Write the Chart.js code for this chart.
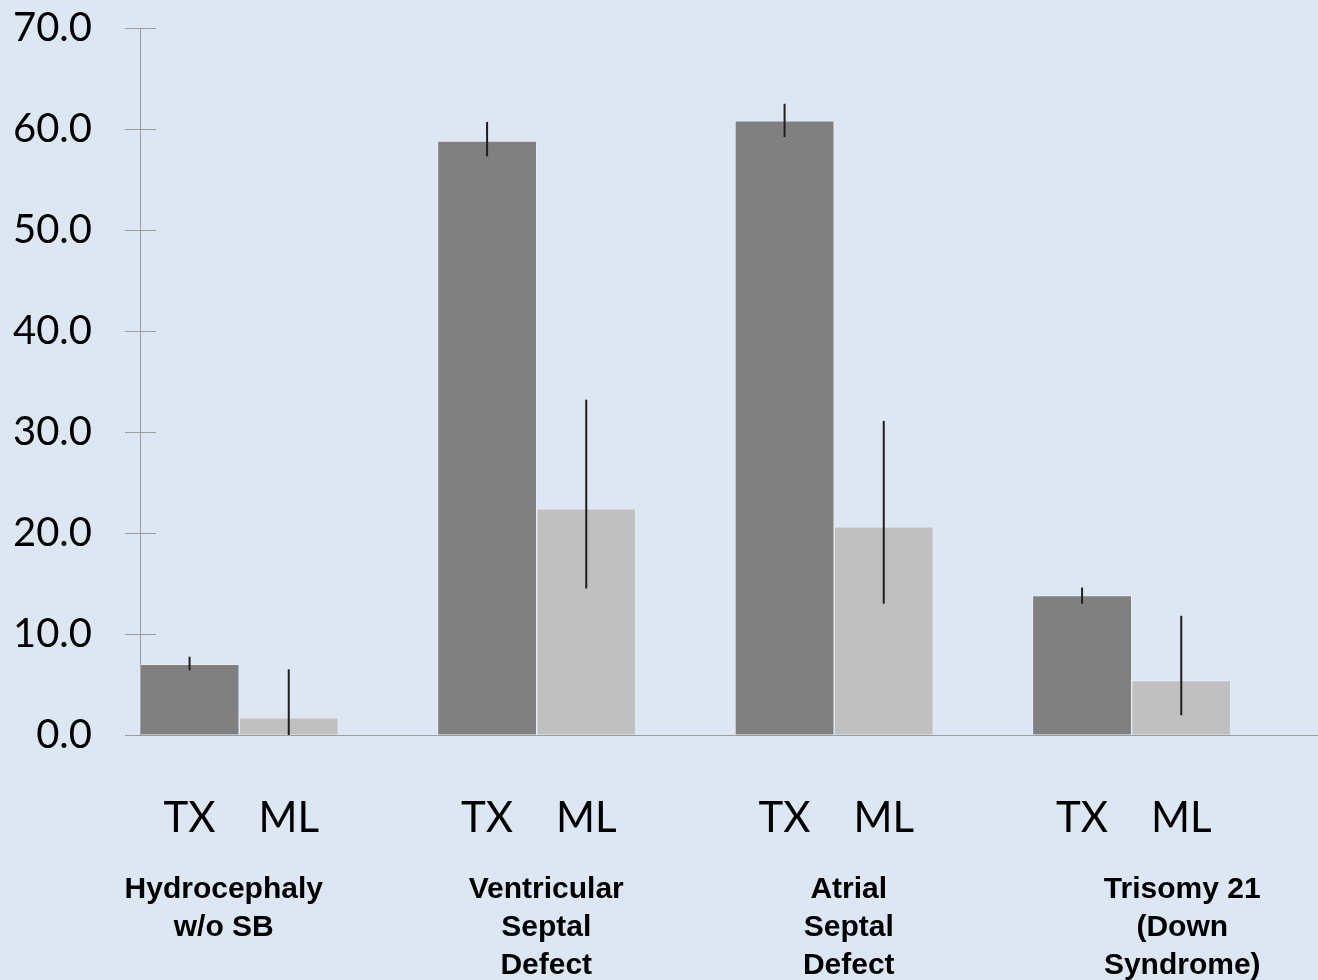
<!DOCTYPE html>
<html>
<head>
<meta charset="utf-8">
<script src="https://cdn.jsdelivr.net/npm/chart.js@4.4.1/dist/chart.umd.min.js"></script>
<style>
  html, body { margin: 0; padding: 0; overflow: hidden; background: #dce7f3; }
  #chart { position: absolute; left: 0; top: 0; }
</style>
</head>
<body>
<canvas id="chart" width="1330" height="980"></canvas>
<script>
// condition groups (text under the bars)
const categories = [
    ["Hydrocephaly", "w/o SB"],
    ["Ventricular", "Septal", "Defect"],
    ["Atrial", "Septal", "Defect"],
    ["Trisomy 21", "(Down", "Syndrome)"],
];
// one label per bar slot: TX, ML, empty gap
const slotLabels = ["TX", "ML", "", "TX", "ML", "", "TX", "ML", "", "TX", "ML", ""];

const txValues = [7.0, 58.8, 60.8, 13.8];
const txHigh = [7.75, 60.7, 62.5, 14.6];
const txLow = [6.4, 57.3, 59.2, 13.0];

const mlValues = [1.7, 22.4, 20.6, 5.4];
const mlHigh = [6.5, 33.2, 31.1, 11.8];
const mlLow = [0.0, 14.5, 13.0, 1.95];

const gapValues = [null, null, null, null];

const yTicks = [0, 10, 20, 30, 40, 50, 60, 70];

const axisGray = "#9c9c9c";
const nameShift = [-65, -40, -35, 1];

const noPad = (s) => {
    s.paddingTop = 0;
    s.paddingBottom = 0;
    s.paddingLeft = 0;
    s.paddingRight = 0;
};

const errorBars = {
    id: "errorBars",
    afterDatasetsDraw(chart) {
        const { ctx } = chart;
        const y = chart.scales.y;
        const ranges = [[txHigh, txLow], [mlHigh, mlLow]];
        ctx.save();
        ctx.strokeStyle = "#1e1e1e";
        ctx.lineWidth = 2;
        ranges.forEach(([hi, lo], d) => {
            chart.getDatasetMeta(d).data.forEach((bar, i) => {
                ctx.beginPath();
                ctx.moveTo(bar.x, y.getPixelForValue(hi[i]));
                ctx.lineTo(bar.x, y.getPixelForValue(lo[i]));
                ctx.stroke();
            });
        });
        ctx.restore();
    },
};

// tick marks on the y axis cross the axis line, draw the inner half here
const innerTicks = {
    id: "innerTicks",
    afterDraw(chart) {
        const { ctx, chartArea } = chart;
        const y = chart.scales.y;
        ctx.save();
        ctx.strokeStyle = axisGray;
        ctx.lineWidth = 1;
        yTicks.forEach((v) => {
            const py = Math.round(y.getPixelForValue(v)) + 0.5;
            ctx.beginPath();
            ctx.moveTo(chartArea.left, py);
            ctx.lineTo(chartArea.left + 16, py);
            ctx.stroke();
        });
        ctx.restore();
    },
};

const groupNames = {
    id: "groupNames",
    afterDraw(chart) {
        const { ctx } = chart;
        const x = chart.scales.x;
        ctx.save();
        ctx.fillStyle = "#000";
        ctx.font = "bold 30px 'Liberation Sans', Arial, sans-serif";
        ctx.textAlign = "center";
        ctx.textBaseline = "alphabetic";
        categories.forEach((lines, i) => {
            const cx = x.getPixelForValue(i) + nameShift[i];
            lines.forEach((line, k) => {
                ctx.fillText(line, cx, 898 + k * 38);
            });
        });
        ctx.restore();
    },
};

new Chart(document.getElementById("chart"), {
    type: "bar",
    data: {
        labels: categories.map((c) => c.join(" ")),
        datasets: [
            {
                label: "TX",
                data: txValues,
                backgroundColor: "#808080",
                borderColor: "rgba(255,255,255,0.3)",
                borderWidth: 1,
            },
            {
                label: "ML",
                data: mlValues,
                backgroundColor: "#c0c0c0",
                borderColor: "rgba(255,255,255,0.3)",
                borderWidth: 1,
            },
            {
                label: "gap",
                data: gapValues,
                backgroundColor: "rgba(0,0,0,0)",
            },
        ],
    },
    options: {
        responsive: false,
        animation: false,
        datasets: {
            bar: { barPercentage: 1, categoryPercentage: 1 },
        },
        layout: { padding: { top: 28, left: 0, right: 0, bottom: 0 } },
        plugins: {
            legend: { display: false },
            tooltip: { enabled: false },
        },
        scales: {
            x: {
                position: "bottom",
                weight: 0,
                grid: { display: false },
                border: { display: true, color: axisGray, width: 1 },
                ticks: { display: false },
                afterFit: (s) => { s.height = 0; noPad(s); },
            },
            slots: {
                type: "category",
                labels: slotLabels,
                position: "bottom",
                weight: 1,
                offset: true,
                grid: { display: false },
                border: { display: false },
                ticks: {
                    autoSkip: false,
                    maxRotation: 0,
                    padding: 50,
                    color: "#000",
                    font: { family: "Lato", size: 42 },
                },
                afterFit: (s) => { s.height = 245; noPad(s); },
            },
            y: {
                min: 0,
                max: 70,
                afterBuildTicks: (s) => { s.ticks = yTicks.map((v) => ({ value: v })); },
                grid: {
                    drawOnChartArea: false,
                    drawTicks: true,
                    tickLength: 15,
                    color: axisGray,
                },
                border: { display: true, color: axisGray, width: 1 },
                ticks: {
                    padding: 33,
                    color: "#000",
                    font: { family: "Lato", size: 40 },
                    callback: (v) => Number(v).toFixed(1),
                },
                afterFit: (s) => { s.width = 140; noPad(s); },
            },
        },
    },
    plugins: [errorBars, innerTicks, groupNames],
});
</script>
</body>
</html>
